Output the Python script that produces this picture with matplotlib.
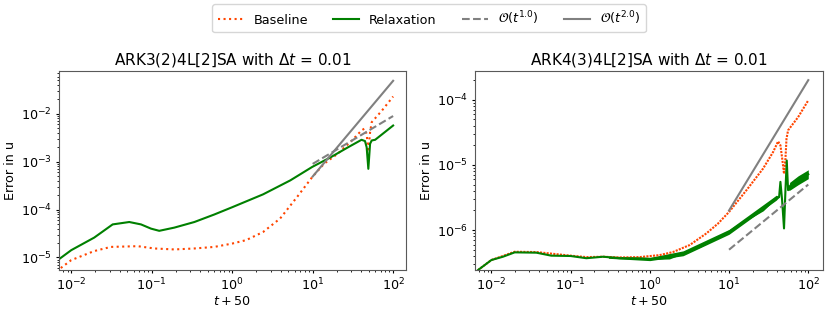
import matplotlib
matplotlib.use('Agg')
import matplotlib.pyplot as plt
from matplotlib.lines import Line2D
import numpy as np

# Left panel: ARK3(2)4L[2]SA
L_RELAX_X = [0.0068, 0.01, 0.0193, 0.0327, 0.0526, 0.0736, 0.098, 0.124,
             0.191, 0.339, 0.60, 1.0, 2.42, 5.27, 9.9, 16.9, 27.5, 40.5,
             44.7, 46.9, 49.2, 51.7, 54.2, 59.8, 100]
L_RELAX_Y = [8.8e-6, 1.42e-5, 2.6e-5, 4.9e-5, 5.5e-5, 4.9e-5, 4.0e-5, 3.6e-5,
             4.2e-5, 5.5e-5, 7.9e-5, 1.12e-4, 2.08e-4, 4.07e-4, 7.8e-4,
             1.25e-3, 2.0e-3, 2.87e-3, 2.7e-3, 2.0e-3, 7.1e-4, 2.37e-3,
             2.78e-3, 2.87e-3, 5.7e-3]
L_BASE_X = [0.0065, 0.0073, 0.01, 0.0193, 0.031, 0.067, 0.108, 0.191, 0.339,
            0.60, 1.0, 1.49, 2.42, 3.94, 6.4, 9.9, 13.9, 20.5, 30.2, 40.5,
            43.8, 46.9, 49.2, 51.7, 54.2, 72.6, 100]
L_BASE_Y = [5.2e-6, 5.9e-6, 8.8e-6, 1.36e-5, 1.66e-5, 1.72e-5, 1.54e-5,
            1.47e-5, 1.54e-5, 1.66e-5, 1.95e-5, 2.3e-5, 3.4e-5, 6.5e-5,
            1.83e-4, 4.8e-4, 9.1e-4, 1.47e-3, 2.69e-3, 4.5e-3, 4.9e-3,
            3.8e-3, 1.6e-3, 4.1e-3, 6.7e-3, 1.17e-2, 2.3e-2]
L_REF_X = [10, 100]
L_REF1_Y = [9.0e-4, 9.0e-3]
L_REF2_Y = [4.9e-4, 4.9e-2]

# Right panel: ARK4(3)4L[2]SA
R_RELAX_X = [0.0068, 0.01, 0.014, 0.0197, 0.037, 0.057, 0.1, 0.158, 0.257,
             0.417, 0.745, 1.0, 1.78, 2.63, 4.26, 6.28, 10, 16.6, 26.9, 39.6,
             42.8, 44.5, 46.7, 49.4, 51.5, 53.5, 55.6, 58.3, 74.3, 100]
R_RELAX_Y = [2.44e-7, 3.47e-7, 3.9e-7, 4.55e-7, 4.5e-7, 4.05e-7, 4.0e-7,
             3.7e-7, 3.9e-7, 3.7e-7, 3.67e-7, 3.6e-7, 3.67e-7, 4.4e-7,
             5.5e-7, 7.0e-7, 9.4e-7, 1.42e-6, 2.0e-6, 3.15e-6, 3.2e-6,
             5.5e-6, 2.9e-6, 1.06e-6, 4.1e-6, 1.17e-5, 4.1e-6, 4.7e-6,
             5.8e-6, 7.2e-6]
# spread of the noisy green band (factor above/below the centre line)
R_BAND_X = [0.3, 1.0, 2.63, 10, 39.6, 42.8, 55.6, 58.3, 74.3, 100]
R_BAND_F = [1.04, 1.06, 1.09, 1.09, 1.09, 1.0, 1.0, 1.15, 1.17, 1.17]
R_BASE_X = [0.0068, 0.01, 0.0197, 0.037, 0.1, 0.158, 0.257, 0.417, 0.745,
            1.33, 1.96, 3.19, 5.18, 7.26, 10, 16.6, 26.9, 36, 41.6, 44.5,
            47.2, 49.4, 51.5, 53.1, 55.6, 74.3, 100]
R_BASE_Y = [2.44e-7, 3.47e-7, 4.65e-7, 4.6e-7, 4.05e-7, 3.85e-7, 3.9e-7,
            3.8e-7, 3.85e-7, 4.13e-7, 4.6e-7, 5.9e-7, 8.9e-7, 1.26e-6,
            1.9e-6, 4.1e-6, 8.8e-6, 1.58e-5, 2.3e-5, 2.0e-5, 1.17e-5,
            7.3e-6, 1.25e-5, 2.53e-5, 3.4e-5, 5.4e-5, 9.8e-5]
R_REF_X = [10, 100]
R_REF1_Y = [5.0e-7, 5.0e-6]
R_REF2_Y = [2.0e-6, 2.0e-4]

TITLES = [r'ARK3(2)4L[2]SA with $\Delta t$ = 0.01',
          r'ARK4(3)4L[2]SA with $\Delta t$ = 0.01']
LABELS = ['Baseline', 'Relaxation', r'$\mathcal{O}(t^{1.0})$',
          r'$\mathcal{O}(t^{2.0})$']

C_BASE = 'orangered'
C_RELAX = 'green'
C_REF = 'gray'

plt.rcParams['font.size'] = 9.2

fig = plt.figure(figsize=(8.3, 3.12), dpi=100)
ax1 = fig.add_axes([0.071, 0.135, 0.418, 0.637])
ax2 = fig.add_axes([0.572, 0.135, 0.420, 0.637])


def draw(ax, bx, by, rx, ry, refx, ref1, ref2, title, xlim, ylim,
         base_ls=':'):
  ax.plot(bx, by, ls=base_ls, color=C_BASE, lw=1.5)
  ax.plot(rx, ry, '-', color=C_RELAX, lw=1.5)
  ax.plot(refx, ref1, '--', color=C_REF, lw=1.5)
  ax.plot(refx, ref2, '-', color=C_REF, lw=1.5)
  ax.set_xscale('log')
  ax.set_yscale('log')
  ax.set_xlim(*xlim)
  ax.set_ylim(*ylim)
  ax.set_xlabel(r'$t + 50$', labelpad=1)
  ax.set_ylabel('Error in u', labelpad=3)
  ax.set_title(title, fontsize=11, pad=5)
  ax.tick_params(which='major', length=2.5, pad=2.5)
  ax.tick_params(which='minor', length=1.5)
  for s in ax.spines.values():
    s.set_color('0.35')


draw(ax1, L_BASE_X, L_BASE_Y, L_RELAX_X, L_RELAX_Y, L_REF_X, L_REF1_Y,
     L_REF2_Y, TITLES[0], (0.00703, 144), (5.5e-6, 7.8e-2))
# right baseline is sampled densely, so its dots almost merge
draw(ax2, R_BASE_X, R_BASE_Y, R_RELAX_X, R_RELAX_Y, R_REF_X, R_REF1_Y,
     R_REF2_Y, TITLES[1], (0.00617, 155), (2.45e-7, 2.75e-4),
     base_ls=(0, (1, 0.6)))

# noisy band around the relaxation curve in the right panel
bx = np.array(R_BAND_X)
cy = np.interp(np.log10(bx), np.log10(R_RELAX_X), np.log10(R_RELAX_Y))
f = np.array(R_BAND_F)
ax2.fill_between(bx, 10 ** cy / f, 10 ** cy * f, color=C_RELAX, lw=0)

handles = [Line2D([], [], ls=':', color=C_BASE, lw=1.5),
           Line2D([], [], ls='-', color=C_RELAX, lw=1.5),
           Line2D([], [], ls='--', color=C_REF, lw=1.5),
           Line2D([], [], ls='-', color=C_REF, lw=1.5)]
fig.legend(handles, LABELS, loc='center', ncol=4,
           bbox_to_anchor=(0.517, 0.941), fontsize=9.2)

fig.savefig('out.png', dpi=100)
